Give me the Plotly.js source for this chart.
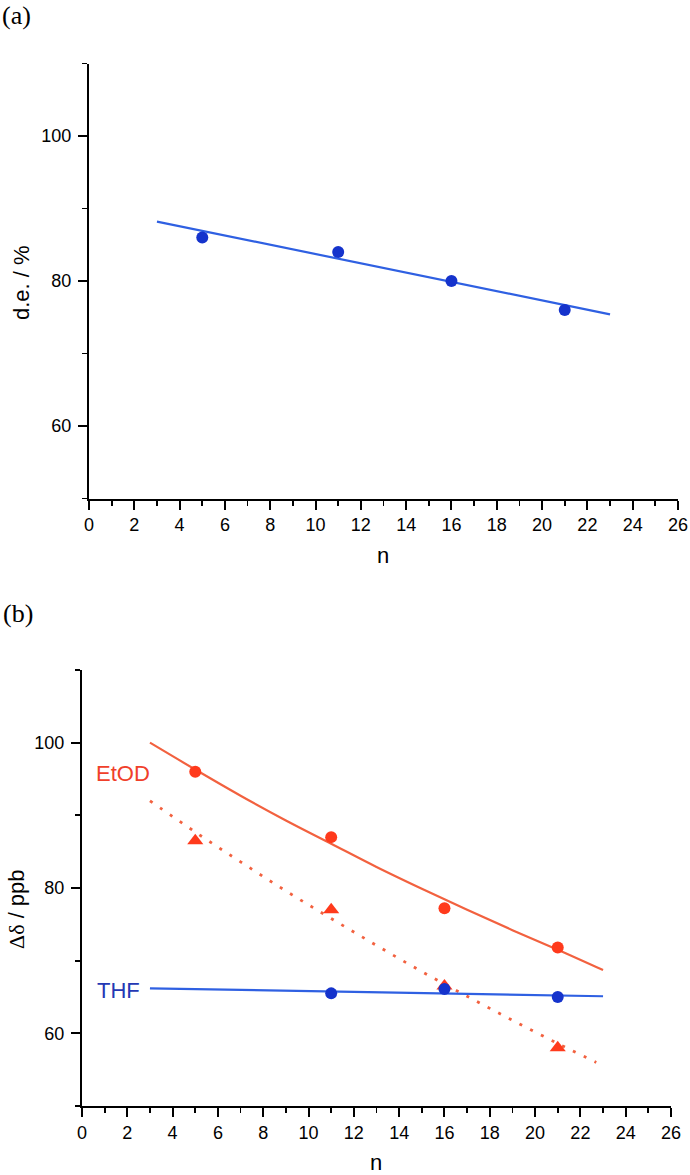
<!DOCTYPE html>
<html><head><meta charset="utf-8">
<script src="https://cdn.plot.ly/plotly-3.0.1.min.js"></script>
<style>html,body{margin:0;padding:0;background:#fff}</style>
</head><body><div id="chart" style="width:690px;height:1175px"></div>
<script>
// ---- data (a) ----
const nA = [5, 11, 16, 21];
const deA = [86.0, 84.0, 80.0, 76.0];
const fitAx = [3, 23];
const fitAy = [88.2, 75.4];

// ---- data (b) ----
const nEtOD = [5, 11, 16, 21];
const etodCircles = [96.0, 87.0, 77.2, 71.8];
const etodTriangles = [86.5, 77.0, 66.5, 58.0];
const nTHF = [11, 16, 21];
const thfCircles = [65.5, 66.1, 65.0];
const fitEtodX = [3, 5, 7, 9, 11, 13, 15, 17, 19, 21, 23];
const fitEtodY = [100, 96.3, 92.7, 89.3, 86.1, 82.9, 79.9, 77.0, 74.2, 71.5, 68.7];
const fitTriX = [3, 5, 7, 9, 11, 13, 15, 17, 19, 21, 22.7];
const fitTriY = [92.0, 87.7, 83.6, 79.6, 75.8, 72.1, 68.5, 65.1, 61.8, 58.6, 56.0];
const fitThfX = [3, 23];
const fitThfY = [66.2, 65.1];

// ---- ticks ----
const xTicks = [0, 2, 4, 6, 8, 10, 12, 14, 16, 18, 20, 22, 24, 26];
const yTicks = [60, 80, 100];

const W = 690, H = 1175;
const px = x => x / W;
const py = y => 1 - y / H;
const SANS = 'Liberation Sans, Arial, sans-serif';
const SERIF = 'Liberation Serif, Times New Roman, serif';

const blueM = '#1533cc', blueL = '#2f60e2';
const redM = '#ff3a1c', redL = '#f2613f';

function xax(domain, anchor) {
  return {
    domain: domain, anchor: anchor, range: [0, 26],
    tickmode: 'array', tickvals: xTicks, ticktext: xTicks.map(String),
    ticks: 'outside', ticklen: 9, tickwidth: 2, tickcolor: '#000',
    showline: true, linecolor: '#000', linewidth: 2.2,
    showgrid: false, zeroline: false, fixedrange: true,
    minor: {tickmode: 'linear', tick0: 0, dtick: 1, ticks: 'outside', ticklen: 5, tickwidth: 1.8, tickcolor: '#000', showgrid: false},
    tickfont: {family: SANS, size: 18, color: '#000'}
  };
}
function yax(domain, anchor) {
  return {
    domain: domain, anchor: anchor, range: [50, 110],
    tickmode: 'array', tickvals: yTicks, ticktext: yTicks.map(String),
    ticks: 'outside', ticklen: 9, tickwidth: 2, tickcolor: '#000',
    showline: true, linecolor: '#000', linewidth: 2.2,
    showgrid: false, zeroline: false, fixedrange: true,
    minor: {tickmode: 'linear', tick0: 0, dtick: 10, ticks: 'outside', ticklen: 5, tickwidth: 1.8, tickcolor: '#000', showgrid: false},
    tickfont: {family: SANS, size: 18, color: '#000'},
    ticklabelstandoff: 3
  };
}

const traces = [
  {x: fitAx, y: fitAy, xaxis: 'x', yaxis: 'y', mode: 'lines', line: {color: blueL, width: 2.2}},
  {x: nA, y: deA, xaxis: 'x', yaxis: 'y', mode: 'markers', marker: {color: blueM, size: 12, symbol: 'circle'}},

  {x: fitEtodX, y: fitEtodY, xaxis: 'x2', yaxis: 'y2', mode: 'lines', line: {color: redL, width: 2.2, shape: 'spline'}},
  {x: fitTriX, y: fitTriY, xaxis: 'x2', yaxis: 'y2', mode: 'lines', line: {color: redL, width: 2.8, dash: '3px,9px', shape: 'spline'}},
  {x: fitThfX, y: fitThfY, xaxis: 'x2', yaxis: 'y2', mode: 'lines', line: {color: blueL, width: 2.2}},
  {x: nEtOD, y: etodCircles, xaxis: 'x2', yaxis: 'y2', mode: 'markers', marker: {color: redM, size: 12, symbol: 'circle'}},
  {x: nEtOD, y: etodTriangles, xaxis: 'x2', yaxis: 'y2', mode: 'markers', marker: {color: redM, size: 14, symbol: 'triangle-up'}},
  {x: nTHF, y: thfCircles, xaxis: 'x2', yaxis: 'y2', mode: 'markers', marker: {color: blueM, size: 12, symbol: 'circle'}}
];

const ann = (text, x, y, opts) => Object.assign({
  text: text, x: px(x), y: py(y), xref: 'paper', yref: 'paper',
  showarrow: false, xanchor: 'center', yanchor: 'middle',
  font: {family: SANS, size: 22, color: '#000'}
}, opts || {});

const layout = {
  width: W, height: H,
  margin: {l: 0, r: 0, t: 0, b: 0},
  paper_bgcolor: '#fff', plot_bgcolor: '#fff',
  showlegend: false,
  xaxis: xax([px(89), px(678)], 'y'),
  yaxis: yax([py(498.5), py(63.5)], 'x'),
  xaxis2: xax([px(82), px(671)], 'y2'),
  yaxis2: yax([py(1106), py(670)], 'x2'),
  annotations: [
    ann('(a)', 1, 0, {xanchor: 'left', yanchor: 'top', borderpad: 0, font: {family: SERIF, size: 26, color: '#000'}}),
    ann('(b)', 1, 613, {xanchor: 'left', font: {family: SERIF, size: 26, color: '#000'}}),
    ann('n', 383, 555),
    ann('n', 376, 1162),
    ann('d.e. / %', 21, 283, {textangle: -90}),
    ann('<span style="font-family:Liberation Serif">Δδ</span> / ppb', 16, 909, {textangle: -90}),
    ann('EtOD', 123, 773, {font: {family: SANS, size: 22, color: '#f0402a'}}),
    ann('THF', 118, 990, {font: {family: SANS, size: 22, color: '#2438b4'}})
  ]
};

Plotly.newPlot('chart', traces, layout, {staticPlot: true, displayModeBar: false});
</script>
</body></html>
